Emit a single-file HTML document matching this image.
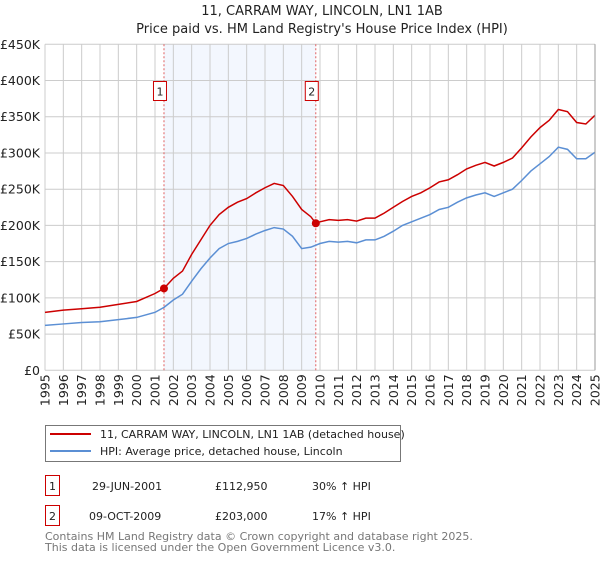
<!DOCTYPE html>
<html><head><meta charset="utf-8"><style>
body{margin:0;background:#fff;font-family:"Liberation Sans","DejaVu Sans",sans-serif;}
svg text{font-family:"DejaVu Sans","Liberation Sans",sans-serif;}
</style></head><body>
<svg width="600" height="560" xmlns="http://www.w3.org/2000/svg">
<text x="322" y="15" text-anchor="middle" font-size="13" fill="#222">11, CARRAM WAY, LINCOLN, LN1 1AB</text>
<text x="322" y="33" text-anchor="middle" font-size="13" fill="#222">Price paid vs. HM Land Registry's House Price Index (HPI)</text>
<g id="plot"></g>
<g>
<rect x="45.5" y="425.5" width="355" height="36" fill="#fff" stroke="#777"/>
<line x1="50" y1="434" x2="91" y2="434" stroke="#cc0000" stroke-width="2"/>
<text x="100" y="438" font-size="11" fill="#222">11, CARRAM WAY, LINCOLN, LN1 1AB (detached house)</text>
<line x1="50" y1="451" x2="91" y2="451" stroke="#5b8fd4" stroke-width="2"/>
<text x="100" y="455" font-size="11" fill="#222">HPI: Average price, detached house, Lincoln</text>
</g>
<g font-size="11" fill="#222">
<rect x="45.5" y="475.5" width="14" height="20" fill="#fff" stroke="#cc0000"/>
<text x="52.5" y="490" text-anchor="middle">1</text>
<text x="92" y="490">29-JUN-2001</text>
<text x="215" y="490">£112,950</text>
<text x="312" y="490">30% ↑ HPI</text>
<rect x="45.5" y="505.5" width="14" height="20" fill="#fff" stroke="#cc0000"/>
<text x="52.5" y="520" text-anchor="middle">2</text>
<text x="89" y="520">09-OCT-2009</text>
<text x="215" y="520">£203,000</text>
<text x="312" y="520">17% ↑ HPI</text>
</g>
<text x="45" y="540" font-size="11" fill="#777">Contains HM Land Registry data © Crown copyright and database right 2025.</text>
<text x="45" y="551" font-size="11" fill="#777">This data is licensed under the Open Government Licence v3.0.</text>
</svg>
<script>
const yTicks=[0,50,100,150,200,250,300,350,400,450];
const yTickLabels=["£0","£50K","£100K","£150K","£200K","£250K","£300K","£350K","£400K","£450K"];
const xYears=[1995,1996,1997,1998,1999,2000,2001,2002,2003,2004,2005,2006,2007,2008,2009,2010,2011,2012,2013,2014,2015,2016,2017,2018,2019,2020,2021,2022,2023,2024,2025];
const hpiT=[1995,1996,1997,1998,1999,2000,2001,2001.5,2002,2002.5,2003,2003.5,2004,2004.5,2005,2005.5,2006,2006.5,2007,2007.5,2008,2008.5,2009,2009.5,2010,2010.5,2011,2011.5,2012,2012.5,2013,2013.5,2014,2014.5,2015,2015.5,2016,2016.5,2017,2017.5,2018,2018.5,2019,2019.5,2020,2020.5,2021,2021.5,2022,2022.5,2023,2023.5,2024,2024.5,2025];
const hpiV=[62,64,66,67,70,73,80,87,97,105,123,140,155,168,175,178,182,188,193,197,195,185,168,170,175,178,177,178,176,180,180,185,192,200,205,210,215,222,225,232,238,242,245,240,245,250,262,275,285,295,308,305,292,292,301];
const propT=[1995,1996,1997,1998,1999,2000,2001,2001.49,2002,2002.5,2003,2003.5,2004,2004.5,2005,2005.5,2006,2006.5,2007,2007.5,2008,2008.5,2009,2009.5,2009.77,2010,2010.5,2011,2011.5,2012,2012.5,2013,2013.5,2014,2014.5,2015,2015.5,2016,2016.5,2017,2017.5,2018,2018.5,2019,2019.5,2020,2020.5,2021,2021.5,2022,2022.5,2023,2023.5,2024,2024.5,2025];
const propV=[80,83,85,87,91,95,106,113,127,137,160,180,200,215,225,232,237,245,252,258,255,240,222,212,203,205,208,207,208,206,210,210,217,225,233,240,245,252,260,263,270,278,283,287,282,287,293,307,322,335,345,360,357,342,340,352];
const saleT=[2001.49,2009.77];
const saleV=[112.95,203];
const saleLabels=["1","2"];
const NS="http://www.w3.org/2000/svg";
const X0=45,X1=595,Y0=370.3,Y1=44.3;
const sx=t=>X0+(t-1995)/30*(X1-X0);
const sy=v=>Y0-v/450*(Y0-Y1);
const g=document.getElementById('plot');
function mk(tag,attrs){const e=document.createElementNS(NS,tag);for(const k in attrs)e.setAttribute(k,attrs[k]);g.appendChild(e);return e;}
const sh=mk('rect',{x:sx(saleT[0]),y:Y1,width:sx(saleT[1])-sx(saleT[0]),height:Y0-Y1,fill:'#f3f7fe'});


yTicks.forEach((v,i)=>{
 const l=mk('line',{x1:X0,x2:X1,y1:sy(v),y2:sy(v),stroke:'#ccc','stroke-width':1});
 
 
 const t=mk('text',{x:X0-5,y:sy(v)+4.5,'text-anchor':'end','font-size':12.5,fill:'#222'});
 t.textContent=yTickLabels[i];
 
 
});
xYears.forEach(yr=>{
 const l=mk('line',{x1:sx(yr),x2:sx(yr),y1:Y1,y2:Y0,stroke:'#ccc','stroke-width':1});
 
 
 const t=mk('text',{x:0,y:0,'text-anchor':'end','font-size':12.5,fill:'#222',transform:`translate(${sx(yr)+4.5},${Y0+4}) rotate(-90)`});
 t.textContent=yr;
 
 
});
saleT.forEach((t,i)=>{
 const l=mk('line',{x1:sx(t),x2:sx(t),y1:Y1,y2:Y0,stroke:'#e06060','stroke-width':1,'stroke-dasharray':'2,2'});
 
 
 const r=mk('rect',{x:sx(t)-10.5,y:81.5,width:13,height:19,fill:'#fff',stroke:'#cc0000'});
 
 
 const tx=mk('text',{x:sx(t)-4,y:95.5,'text-anchor':'middle','font-size':11,fill:'#222'});
 tx.textContent=saleLabels[i];
 
 
});
const hp=mk('polyline',{points:hpiT.map((t,i)=>sx(t)+','+sy(hpiV[i])).join(' '),fill:'none',stroke:'#5b8fd4','stroke-width':1.5});


const pp=mk('polyline',{points:propT.map((t,i)=>sx(t)+','+sy(propV[i])).join(' '),fill:'none',stroke:'#cc0000','stroke-width':1.5});


saleT.forEach((t,i)=>{
 const c=mk('circle',{cx:sx(t),cy:sy(saleV[i]),r:4,fill:'#cc0000'});
 
 
});
const ax=mk('line',{x1:X1,x2:X1,y1:Y1,y2:Y0,stroke:'#999','stroke-width':1});


</script>
</body></html>
